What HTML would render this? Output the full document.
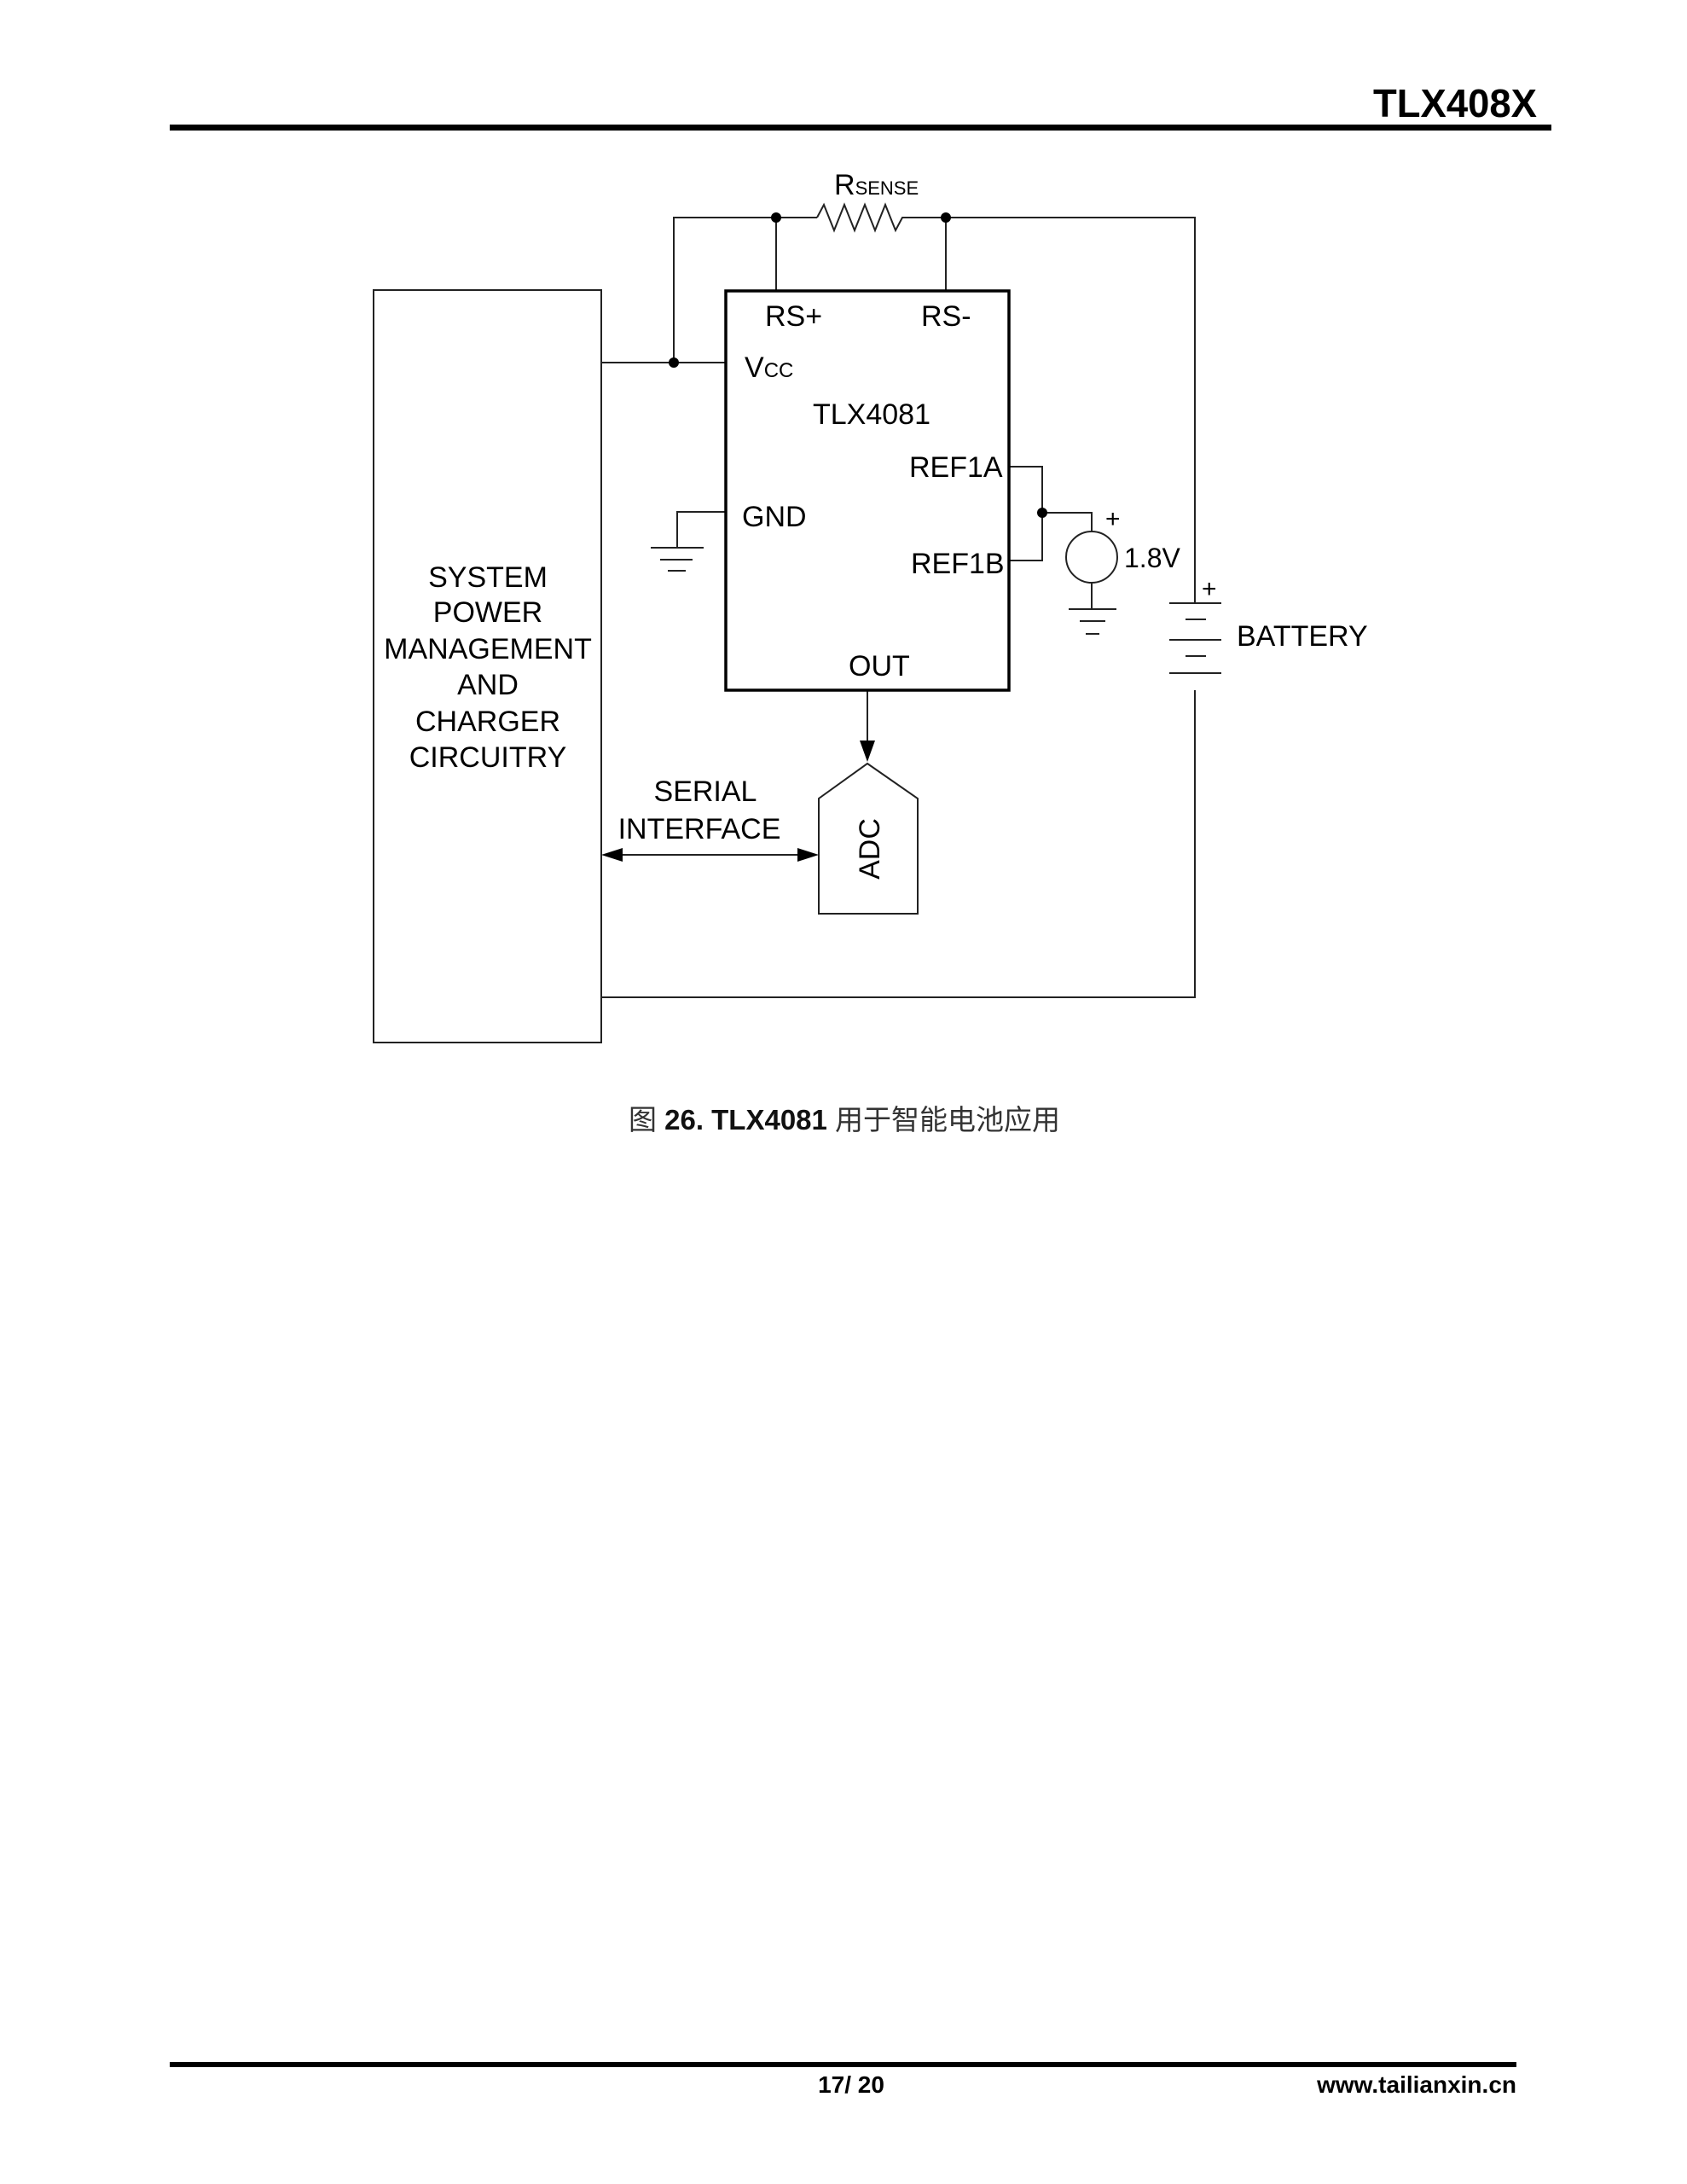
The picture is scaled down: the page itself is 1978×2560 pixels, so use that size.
<!DOCTYPE html>
<html><head><meta charset="utf-8"><style>
html,body{margin:0;padding:0;background:#fff}
svg{display:block}
</style></head><body>
<svg width="1978" height="2560" viewBox="0 0 1978 2560" xmlns="http://www.w3.org/2000/svg" font-family="Liberation Sans, sans-serif">
<rect width="1978" height="2560" fill="#fff"/>
<!-- header -->
<text x="1802" y="137" font-size="46" font-weight="bold" text-anchor="end" textLength="192" lengthAdjust="spacingAndGlyphs">TLX408X</text>
<rect x="199" y="146" width="1620" height="7" fill="#000"/>
<g stroke="#222" stroke-width="2" fill="none">
<rect x="438" y="340" width="267" height="882"/>
<polyline points="790,425 790,255 958,255"/>
<polyline points="1064,255 1401,255 1401,707"/>
<polyline points="958,255 966,240 978,270 990,240 1002,270 1014,240 1026,270 1038,240 1050,270 1058,255 1064,255"/>
<line x1="910" y1="255" x2="910" y2="341"/>
<line x1="1109" y1="255" x2="1109" y2="341"/>
<line x1="705" y1="425" x2="851" y2="425"/>
<line x1="1371" y1="707" x2="1432" y2="707"/>
<line x1="1390" y1="726" x2="1414" y2="726"/>
<line x1="1371" y1="750" x2="1432" y2="750"/>
<line x1="1390" y1="769" x2="1414" y2="769"/>
<line x1="1371" y1="789" x2="1432" y2="789"/>
<polyline points="1401,809 1401,1169 705,1169"/>
<polyline points="1183,547 1222,547 1222,657 1183,657"/>
<polyline points="1222,601 1280,601 1280,623"/>
<circle cx="1280" cy="653" r="30"/>
<line x1="1280" y1="683" x2="1280" y2="714"/>
<line x1="1253" y1="714" x2="1309" y2="714"/>
<line x1="1266" y1="728" x2="1296" y2="728"/>
<line x1="1273" y1="743" x2="1289" y2="743"/>
<polyline points="851,600 794,600 794,642"/>
<line x1="763" y1="642" x2="825" y2="642"/>
<line x1="774" y1="656" x2="812" y2="656"/>
<line x1="783" y1="669" x2="804" y2="669"/>
<line x1="1017" y1="809" x2="1017" y2="880"/>
<polygon points="1017,895 1076,936 1076,1071 960,1071 960,936"/>
<line x1="720" y1="1002" x2="945" y2="1002"/>
</g>
<rect x="851" y="341" width="332" height="468" fill="none" stroke="#000" stroke-width="3.5"/>
<g fill="#000">
<circle cx="790" cy="425" r="6"/><circle cx="910" cy="255" r="6"/><circle cx="1109" cy="255" r="6"/><circle cx="1222" cy="601" r="6"/>
<polygon points="1008,868 1026,868 1017,893"/>
<polygon points="705,1002 730,994 730,1010"/>
<polygon points="960,1002 935,994 935,1010"/>
</g>
<g font-size="34" fill="#000">
<text x="978" y="228" font-size="34">R<tspan font-size="22">SENSE</tspan></text>
<text x="897" y="382">RS+</text>
<text x="1080" y="382">RS-</text>
<text x="873" y="442">V<tspan font-size="24">CC</tspan></text>
<text x="953" y="497">TLX4081</text>
<text x="1066" y="559">REF1A</text>
<text x="870" y="617">GND</text>
<text x="1068" y="672">REF1B</text>
<text x="995" y="792">OUT</text>
<text x="1296" y="618" font-size="30">+</text>
<text x="1318" y="665" font-size="32">1.8V</text>
<text x="1409" y="700" font-size="30">+</text>
<text x="1450" y="757">BATTERY</text>
<g text-anchor="middle">
<text x="572" y="688">SYSTEM</text>
<text x="572" y="729">POWER</text>
<text x="572" y="772">MANAGEMENT</text>
<text x="572" y="814">AND</text>
<text x="572" y="857">CHARGER</text>
<text x="572" y="899">CIRCUITRY</text>
<text x="827" y="939">SERIAL</text>
<text x="820" y="983">INTERFACE</text>
<text transform="translate(1031,995) rotate(-90)">ADC</text>
</g>
</g>
<text x="990" y="1324" font-size="33" text-anchor="middle" fill="#333" font-family="Liberation Sans, Noto Sans CJK SC, sans-serif">图 <tspan font-weight="bold" fill="#111">26. TLX4081</tspan> 用于智能电池应用</text>
<rect x="199" y="2417" width="1579" height="6" fill="#000"/>
<text x="998" y="2453" font-size="28" font-weight="bold" text-anchor="middle">17/ 20</text>
<text x="1778" y="2453" font-size="28" font-weight="bold" text-anchor="end">www.tailianxin.cn</text>
</svg>
</body></html>
